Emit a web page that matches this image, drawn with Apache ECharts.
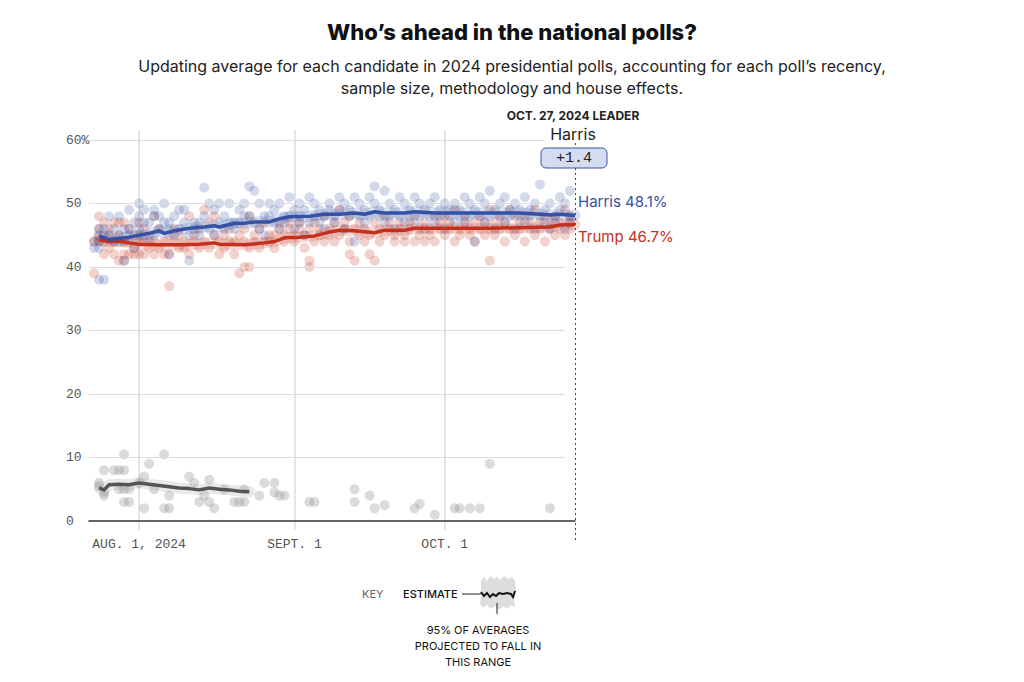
<!DOCTYPE html>
<html>
<head>
<meta charset="utf-8">
<script src="https://cdn.jsdelivr.net/npm/echarts@6/dist/echarts.min.js"></script>
<style>
html,body{margin:0;padding:0;background:#fff;}
#chart{width:1024px;height:682px;}
</style>
</head>
<body>
<div id="chart"></div>
<script>
// ---------- DATA ----------
const titleText = 'Who’s ahead in the national polls?';
const subtitleText = 'Updating average for each candidate in 2024 presidential polls, accounting for each poll’s recency,\nsample size, methodology and house effects.';
const firstDay = [2024, 7, 22];   // Jul 22, 2024 (axis start)
const dayCount = 98;              // through Oct 27, 2024
const xTickDates = ['08-01', '09-01', '10-01'];
const xTickLabels = ['AUG. 1, 2024', 'SEPT. 1', 'OCT. 1'];
const yTicks = [0, 10, 20, 30, 40, 50, 60];
const leaderDate = '10-27';
const leaderDateLabel = 'OCT. 27, 2024 LEADER';

const harrisAvg = [['07-24',44.9],['07-25',44.6],['07-26',44.3],['07-28',44.5],['07-30',44.7],['08-01',45.0],['08-03',45.3],['08-05',45.7],['08-06',45.3],['08-08',45.7],['08-11',46.1],['08-14',46.3],['08-16',46.5],['08-17',46.3],['08-20',46.9],['08-22',46.9],['08-24',47.1],['08-27',47.1],['08-29',47.6],['08-31',47.9],['09-04',48.0],['09-07',48.3],['09-10',48.3],['09-13',48.5],['09-15',48.3],['09-17',48.7],['09-19',48.5],['09-23',48.5],['09-25',48.7],['09-29',48.5],['10-05',48.5],['10-10',48.5],['10-16',48.5],['10-20',48.3],['10-22',48.2],['10-24',48.3],['10-27',48.1]];
const trumpAvg = [['07-24',44.3],['07-26',44.0],['07-28',44.1],['07-30',43.8],['08-01',43.6],['08-05',43.5],['08-09',43.5],['08-13',43.6],['08-16',43.8],['08-17',43.6],['08-22',43.5],['08-26',43.8],['08-28',44.0],['08-30',44.6],['09-02',44.7],['09-05',44.9],['09-08',45.5],['09-10',45.8],['09-13',45.7],['09-17',45.4],['09-19',45.8],['09-23',45.8],['09-25',46.1],['09-29',46.1],['10-05',46.1],['10-10',46.1],['10-16',46.2],['10-22',46.3],['10-24',46.6],['10-27',46.7]];
const otherAvg = [['07-24',5.2],['07-25',4.9],['07-26',5.7],['07-28',5.8],['07-30',5.7],['08-01',6.0],['08-03',5.8],['08-05',5.6],['08-07',5.4],['08-09',5.2],['08-11',5.1],['08-13',4.9],['08-15',5.2],['08-17',5.0],['08-19',4.9],['08-21',4.7],['08-23',4.6]];

const harrisPolls = [['07-23',44],['07-23',43],['07-24',46],['07-24',43],['07-24',38],['07-24',44],['07-25',46],['07-25',38],['07-25',45],['07-26',48],['07-26',45],['07-27',44],['07-27',46],['07-28',48],['07-28',44],['07-28',45],['07-29',46],['07-29',41],['07-29',44],['07-30',49],['07-30',45],['07-30',46],['07-31',43],['07-31',47],
['08-01',50],['08-01',46],['08-01',48],['08-01',45],['08-02',49],['08-02',45],['08-02',47],['08-03',47],['08-03',44],['08-04',49],['08-04',48],['08-04',45],['08-05',48],['08-05',46],['08-06',50],['08-06',47],['08-07',42],['08-07',46],['08-07',47],['08-08',45],['08-08',48],['08-09',49],['08-09',46],['08-10',49],['08-10',47],['08-11',41],['08-11',45],['08-12',47],['08-12',46],['08-13',45],['08-13',47],['08-14',52.5],['08-14',48],['08-15',46],['08-15',50],['08-16',49],['08-16',45],['08-17',50],['08-17',47],['08-18',48],['08-18',46],['08-19',50],['08-19',47],['08-20',47],['08-20',46],['08-21',49],['08-21',47],['08-22',50],['08-22',48],['08-23',52.7],['08-23',48],['08-24',52],['08-24',47],['08-25',50],['08-25',46],['08-26',48],['08-26',45],['08-27',50],['08-27',48],['08-28',49],['08-28',47],['08-29',50],['08-29',46],['08-30',48],['08-30',47],['08-31',51],['08-31',48],
['09-01',49],['09-01',46],['09-02',50],['09-02',48],['09-02',47],['09-03',49],['09-03',45],['09-04',51],['09-04',47],['09-05',50],['09-05',48],['09-06',49],['09-06',47],['09-07',48],['09-07',46],['09-08',50],['09-08',49],['09-09',47],['09-09',48],['09-10',51],['09-10',49],['09-11',50],['09-11',46],['09-12',49],['09-12',48],['09-13',51],['09-13',44],['09-14',50],['09-14',48],['09-15',49],['09-15',47],['09-16',51],['09-16',48],['09-17',52.7],['09-17',50],['09-18',49],['09-18',48],['09-19',52],['09-19',47],['09-20',50],['09-20',48],['09-21',49],['09-21',46],['09-22',51],['09-22',48],['09-23',50],['09-23',47],['09-24',48],['09-24',49],['09-25',51],['09-25',47],['09-26',50],['09-26',48],['09-27',49],['09-27',46],['09-28',50],['09-28',48],['09-29',51],['09-29',47],['09-30',49],['09-30',48],
['10-01',50],['10-01',46],['10-02',49],['10-02',48],['10-03',50],['10-03',47],['10-04',48],['10-04',49],['10-05',51],['10-05',47],['10-06',50],['10-06',48],['10-07',49],['10-07',44],['10-08',51],['10-08',48],['10-09',50],['10-09',47],['10-10',52],['10-10',48],['10-11',49],['10-11',46],['10-12',50],['10-12',48],['10-13',51],['10-13',47],['10-14',49],['10-14',48],['10-15',50],['10-15',46],['10-16',48],['10-16',49],['10-17',51],['10-17',47],['10-18',49],['10-18',48],['10-19',50],['10-19',46],['10-20',53],['10-20',48],['10-21',49],['10-21',47],['10-22',50],['10-22',46],['10-23',48],['10-23',47],['10-24',51],['10-24',49],['10-25',50],['10-25',46],['10-26',52],['10-26',48],['10-26',47]];

const trumpPolls = [['07-23',44],['07-23',39],['07-24',48],['07-24',46],['07-24',44],['07-24',45],['07-25',47],['07-25',44],['07-25',42],['07-26',46],['07-26',45],['07-26',43],['07-27',47],['07-27',44],['07-27',42],['07-28',47],['07-28',45],['07-28',41],['07-29',47],['07-29',44],['07-29',41],['07-29',42],['07-30',46],['07-30',42],['07-30',44],['07-31',45],['07-31',43],['07-31',42],
['08-01',47],['08-01',42],['08-01',44],['08-02',46],['08-02',42],['08-02',44],['08-03',45],['08-03',43],['08-04',48],['08-04',44],['08-04',42],['08-05',46],['08-05',43],['08-06',44],['08-06',42],['08-07',37],['08-07',42],['08-07',45],['08-08',46],['08-08',44],['08-09',45],['08-09',43],['08-10',44],['08-10',43],['08-11',48],['08-11',42],['08-12',45],['08-12',44],['08-13',46],['08-13',43],['08-14',49],['08-14',44],['08-15',47],['08-15',43],['08-16',48],['08-16',45],['08-17',44],['08-17',42],['08-18',45],['08-18',43],['08-19',46],['08-19',44],['08-20',44],['08-20',42],['08-21',39],['08-21',45],['08-22',40],['08-22',44],['08-22',46],['08-23',40],['08-23',43],['08-23',48],['08-24',45],['08-24',44],['08-25',46],['08-25',43],['08-26',47],['08-26',44],['08-27',44],['08-27',45],['08-28',45],['08-28',43],['08-29',47],['08-29',46],['08-30',45],['08-30',44],['08-31',46],['08-31',47],
['09-01',44],['09-01',45],['09-02',46],['09-02',47],['09-03',45],['09-03',43],['09-04',41],['09-04',40],['09-04',46],['09-05',47],['09-05',44],['09-06',45],['09-06',46],['09-07',48],['09-07',44],['09-08',46],['09-08',45],['09-09',47],['09-09',44],['09-10',49],['09-10',45],['09-11',46],['09-11',47],['09-12',42],['09-12',44],['09-12',48],['09-13',41],['09-13',46],['09-14',47],['09-14',45],['09-15',44],['09-15',46],['09-16',42],['09-16',45],['09-17',41],['09-17',47],['09-18',46],['09-18',44],['09-19',48],['09-19',45],['09-20',47],['09-20',46],['09-21',44],['09-21',45],['09-22',46],['09-22',47],['09-23',45],['09-23',44],['09-24',47],['09-24',46],['09-25',44],['09-25',48],['09-26',46],['09-26',45],['09-27',47],['09-27',44],['09-28',45],['09-28',46],['09-29',48],['09-29',44],['09-30',46],['09-30',47],
['10-01',45],['10-01',48],['10-02',47],['10-02',46],['10-03',49],['10-03',44],['10-04',46],['10-04',45],['10-05',48],['10-05',47],['10-06',45],['10-06',46],['10-07',47],['10-07',44],['10-08',46],['10-08',48],['10-09',45],['10-09',47],['10-10',41],['10-10',49],['10-10',46],['10-11',47],['10-11',45],['10-12',48],['10-12',46],['10-13',44],['10-13',47],['10-14',46],['10-14',49],['10-15',45],['10-15',48],['10-16',47],['10-16',46],['10-17',44],['10-17',48],['10-18',46],['10-18',47],['10-19',45],['10-19',49],['10-20',47],['10-20',46],['10-21',48],['10-21',44],['10-22',46],['10-22',47],['10-23',45],['10-23',48],['10-24',47],['10-24',46],['10-25',49],['10-25',45],['10-26',47],['10-26',46],['10-26',48]];

const otherPolls = [['07-24',6],['07-24',5.5],['07-25',4],['07-25',4.5],['07-25',8],['07-27',8],['07-28',8],['07-28',5],['07-29',8],['07-29',10.5],['07-29',5],['07-29',3],['07-30',5],['07-30',3],['08-01',6],['08-02',7],['08-02',2],['08-03',9],['08-04',5],['08-06',10.5],['08-06',2],['08-07',2],['08-07',4],['08-11',7],['08-12',6],['08-13',3],['08-14',4],['08-15',6.5],['08-15',3],['08-16',2],['08-18',5],['08-20',3],['08-21',3],['08-22',3],['08-22',5],['08-25',4],['08-26',6],['08-28',6],['08-28',4.5],['08-29',4],['08-30',4],['09-04',3],['09-05',3],['09-13',5],['09-13',3],['09-16',4],['09-17',2],['09-19',2.5],['09-25',2],['09-26',2.7],['09-29',1],['10-03',2],['10-04',2],['10-06',2],['10-08',2],['10-10',9],['10-22',2]];

const candidateNames = ['Harris', 'Trump'];
const candidateColors = ['#3451a5', '#c3301d'];
const otherColor = '#555555';

// ---------- build axis categories ----------
const categories = [];
(function () {
  const d = new Date(firstDay[0], firstDay[1] - 1, firstDay[2]);
  for (let i = 0; i < dayCount; i++) {
    const mm = String(d.getMonth() + 1).padStart(2, '0');
    const dd = String(d.getDate()).padStart(2, '0');
    categories.push(mm + '-' + dd);
    d.setDate(d.getDate() + 1);
  }
})();

const hLast = harrisAvg[harrisAvg.length - 1][1];
const tLast = trumpAvg[trumpAvg.length - 1][1];
const leaderName = hLast >= tLast ? candidateNames[0] : candidateNames[1];
const marginText = '+' + Math.abs(hLast - tLast).toFixed(1);

const chart = echarts.init(document.getElementById('chart'), null, { renderer: 'svg' });
const monoFont = '"Liberation Mono", "DejaVu Sans Mono", monospace';
const sansFont = 'Inter, "Noto Sans", sans-serif';

const L = 89, W = 486;
const gridLineVals = [10, 20, 30, 40, 50];

function scatter(name, data, color, opacity) {
  return {
    name, type: 'scatter', xAxisIndex: 1, yAxisIndex: 1, data,
    symbolSize: 10, silent: true,
    itemStyle: { color, opacity }
  };
}
function band(data, color, opacity, width) {
  return {
    type: 'line', xAxisIndex: 1, yAxisIndex: 1, data, showSymbol: false, silent: true,
    lineStyle: { color, width, opacity, cap: 'round', join: 'round' }
  };
}
function avgLine(name, data, color, endLabel) {
  const s = {
    name, type: 'line', xAxisIndex: 1, yAxisIndex: 1, data, showSymbol: false, silent: true,
    lineStyle: { color, width: 3.5, join: 'round' }, z: 5
  };
  if (endLabel) s.endLabel = endLabel;
  return s;
}

const option = {
  animation: false,
  backgroundColor: '#ffffff',
  title: [
    { text: titleText, left: 'center', top: 16,
      textStyle: { fontFamily: sansFont, fontWeight: 800, fontSize: 22, color: '#111' } },
    { text: subtitleText, left: 'center', top: 50,
      textStyle: { fontFamily: sansFont, fontWeight: 400, fontSize: 16, lineHeight: 22, color: '#222' } }
  ],
  grid: [
    { left: L, width: W, top: 130, bottom: 152 },
    { left: L, width: W, top: 140, bottom: 161 },
    { left: L, width: W, top: 142, bottom: 142 }
  ],
  xAxis: [
    { type: 'category', gridIndex: 0, data: categories, boundaryGap: false,
      axisLine: { show: false }, axisTick: { show: false },
      axisLabel: { interval: (i, v) => xTickDates.includes(v), margin: 8,
        formatter: v => xTickLabels[xTickDates.indexOf(v)],
        fontFamily: monoFont, fontSize: 13, color: '#555' },
      splitLine: { show: true, interval: (i, v) => xTickDates.includes(v),
        lineStyle: { color: '#dcdcdc', width: 1.5 } } },
    { type: 'category', gridIndex: 1, data: categories, boundaryGap: false,
      axisLine: { show: true, lineStyle: { color: '#333', width: 1.5 } },
      axisTick: { show: false }, axisLabel: { show: false }, splitLine: { show: false } },
    { type: 'category', gridIndex: 2, data: categories, boundaryGap: false, show: false }
  ],
  yAxis: [
    { type: 'value', gridIndex: 0, min: 0, max: 1, show: false },
    { type: 'value', gridIndex: 1, min: 0, max: 60, interval: 10,
      axisLine: { show: false }, axisTick: { show: false }, splitLine: { show: false },
      axisLabel: { margin: 23, align: 'left', fontFamily: monoFont, fontSize: 13, color: '#555',
        formatter: v => (v === 60 ? v + '%' : String(v)) } },
    { type: 'value', gridIndex: 2, min: 0, max: 1, show: false }
  ],
  series: [
    // horizontal gridlines
    { type: 'line', xAxisIndex: 1, yAxisIndex: 1, data: [], silent: true,
      markLine: { silent: true, symbol: 'none', label: { show: false },
        lineStyle: { color: '#dcdcdc', width: 1, type: 'solid' },
        data: gridLineVals.map(v => [{ coord: [categories[0], v] }, { coord: ['10-25', v] }])
          .concat([[{ coord: [categories[0], 60] }, { coord: ['10-21', 60] }]]) } },
    // leader dotted line
    { type: 'line', xAxisIndex: 2, yAxisIndex: 2, data: [], silent: true, z: 1,
      markLine: { silent: true, symbol: 'none', label: { show: false },
        lineStyle: { color: '#444', width: 1, type: [2, 3] },
        data: [{ xAxis: leaderDate }] } },
    scatter('Trump polls', trumpPolls, candidateColors[1], 0.22),
    scatter('Harris polls', harrisPolls, candidateColors[0], 0.22),
    scatter('Other polls', otherPolls, '#888888', 0.3),
    band(otherAvg, '#999999', 0.22, 11),
    band(trumpAvg, candidateColors[1], 0.18, 11),
    band(harrisAvg, candidateColors[0], 0.18, 11),
    avgLine('Other', otherAvg, otherColor),
    avgLine('Trump', trumpAvg, candidateColors[1], {
      show: true, formatter: p => 'Trump ' + p.value[1] + '%', distance: 3, offset: [0, 12],
      color: candidateColors[1], fontFamily: sansFont, fontSize: 15, align: 'left' }),
    avgLine('Harris', harrisAvg, candidateColors[0], {
      show: true, formatter: p => 'Harris ' + p.value[1] + '%', distance: 3, offset: [0, -14],
      color: candidateColors[0], fontFamily: sansFont, fontSize: 15, align: 'left' })
  ],
  graphic: [
    { type: 'text', x: 573, y: 115, z: 100, style: { text: leaderDateLabel,
      font: '700 12px ' + sansFont, fill: '#222', align: 'center', verticalAlign: 'middle' } },
    { type: 'text', x: 573, y: 134, z: 100, style: { text: leaderName, font: '400 16px ' + sansFont,
      fill: '#222', align: 'center', verticalAlign: 'middle' } },
    { type: 'rect', z: 100, shape: { x: 541, y: 148, width: 66, height: 20, r: 5 },
      style: { fill: '#d6dcef', stroke: '#3a55a8', lineWidth: 1 } },
    { type: 'text', x: 574, y: 158, z: 101, style: { text: marginText, font: '400 15px ' + monoFont,
      fill: '#222', align: 'center', verticalAlign: 'middle' } },
    // key
    { type: 'text', x: 362, y: 594, style: { text: 'KEY', font: '400 11px ' + sansFont,
      fill: '#666', align: 'left', verticalAlign: 'middle' } },
    { type: 'text', x: 403, y: 594, style: { text: 'ESTIMATE', font: '500 11px ' + sansFont,
      fill: '#111', align: 'left', verticalAlign: 'middle' } },
    { type: 'line', shape: { x1: 462, y1: 594, x2: 481, y2: 594 }, style: { stroke: '#222', lineWidth: 1 } },
    { type: 'polygon', shape: { points: [[481,580],[484,577],[487,581],[490,576],[494,579],[497,577],[500,580],[504,576],[508,579],[512,577],[515,581],[516,590],[514,600],[515,607],[511,605],[507,609],[503,606],[499,610],[495,606],[491,609],[487,605],[483,608],[480,604],[481,596]] },
      style: { fill: '#dddddd' } },
    { type: 'polyline', shape: { points: [[481,592],[484,596],[487,593],[490,597],[493,594],[496,596],[499,593],[503,594],[507,593],[511,594],[513,597],[515,591]] },
      style: { stroke: '#111', lineWidth: 2, fill: null } },
    { type: 'line', shape: { x1: 497, y1: 603, x2: 497, y2: 614 }, style: { stroke: '#222', lineWidth: 1 } },
    { type: 'text', x: 478, y: 622, style: { text: '95% OF AVERAGES\nPROJECTED TO FALL IN\nTHIS RANGE',
      font: '400 11px ' + sansFont, lineHeight: 16, fill: '#111', align: 'center', verticalAlign: 'top' } }
  ]
};
chart.setOption(option);
</script>
</body>
</html>
